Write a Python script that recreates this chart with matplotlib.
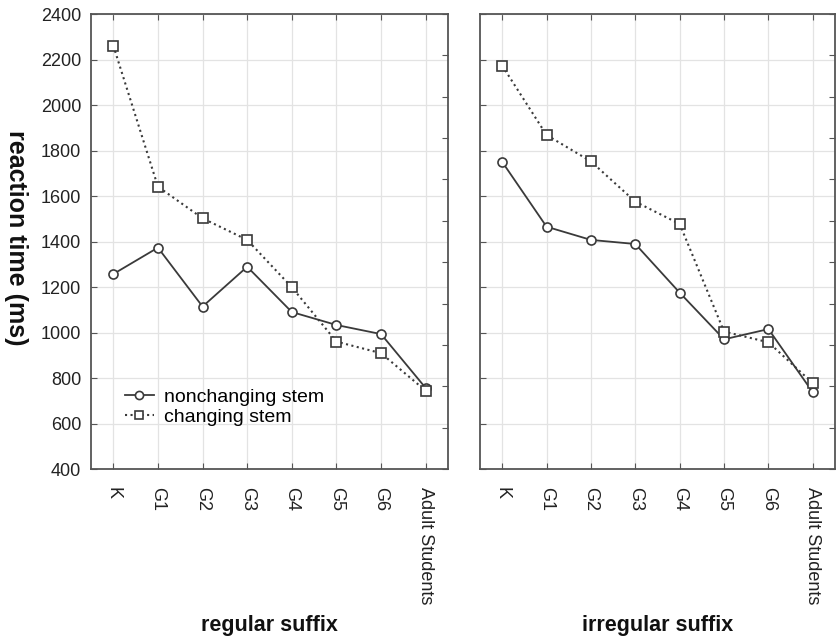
import matplotlib
matplotlib.use("Agg")
import matplotlib.pyplot as plt
import numpy as np

plt.rcParams['font.family'] = ['Liberation Sans', 'DejaVu Sans']

categories = ["K", "G1", "G2", "G3", "G4", "G5", "G6", "Adult Students"]
regular_nonchanging = [1257, 1373, 1114, 1289, 1090, 1033, 993, 756]
regular_changing = [2261, 1641, 1502, 1407, 1199, 960, 909, 744]
irregular_nonchanging = [1750, 1465, 1407, 1389, 1175, 970, 1015, 737]
irregular_changing = [2173, 1868, 1752, 1575, 1477, 1004, 957, 777]
panel_titles = ["regular suffix", "irregular suffix"]
y_ticks = [400, 600, 800, 1000, 1200, 1400, 1600, 1800, 2000, 2200, 2400]

W, H = 836, 639
fig = plt.figure(figsize=(W / 100, H / 100), dpi=100)

line_col = "#3a3a3a"
spine_col = "#555555"
grid_col = "#e3e3e3"
text_col = "#222222"

def make_ax(left_px, right_px):
    top_px, bot_px = 14, 469
    return fig.add_axes([left_px / W, 1 - bot_px / H, (right_px - left_px) / W, (bot_px - top_px) / H])

axes = [make_ax(91, 448), make_ax(480, 835)]
data = [(regular_nonchanging, regular_changing), (irregular_nonchanging, irregular_changing)]
x = np.arange(len(categories))

for i, (ax, (nc, ch)) in enumerate(zip(axes, data)):
    ax.plot(x, nc, '-', color=line_col, lw=1.3, marker='o', ms=6.5,
            mfc='white', mec=line_col, mew=1.2, label='nonchanging stem', zorder=3)
    ax.plot(x, ch, ':', color=line_col, lw=1.5, marker='s', ms=6.5,
            mfc='white', mec=line_col, mew=1.2, label='changing stem', zorder=3)
    ax.set_xlim(-0.5, len(categories) - 0.5)
    ax.set_ylim(400, 2400)
    ax.set_yticks(y_ticks)
    ax.set_xticks(x)
    ax.set_xticklabels(categories, rotation=-90, fontsize=13, color=text_col)
    ax.grid(True, color=grid_col, lw=0.9, zorder=0)
    ax.tick_params(axis='x', direction='in', length=4, top=True, bottom=True, color=spine_col, pad=13)
    ax.tick_params(axis='y', direction='in', length=4, left=True, right=False, color=spine_col,
                   labelsize=13, labelcolor=text_col, pad=7)
    for s in ax.spines.values():
        s.set_color(spine_col)
        s.set_linewidth(1.3)
    if i == 1:
        ax.set_yticklabels([])
    # secondary right-side ticks
    tw = ax.twinx()
    tw.set_ylim(0, 11)
    tw.set_yticks(np.arange(0, 12))
    tw.set_yticklabels([])
    tw.tick_params(axis='y', direction='in', length=4, color=spine_col)
    for s in tw.spines.values():
        s.set_visible(False)
    # panel label
    pos = ax.get_position()
    fig.text((pos.x0 + pos.x1) / 2, 1 - 625 / H, panel_titles[i], fontsize=15.5,
             fontweight='bold', ha='center', va='center', color="#111111")

fig.text(16 / W, 1 - 238 / H, "reaction time (ms)", rotation=270, fontsize=18,
         fontweight='bold', ha='center', va='center', color="#111111")

axes[0].legend(loc='upper left', bbox_to_anchor=(0.073, 0.195), frameon=False, fontsize=14,
               handlelength=1.5, handletextpad=0.5, labelspacing=0.12, borderaxespad=0,
               markerscale=0.9)

fig.savefig("out.png", dpi=100, facecolor='white')
